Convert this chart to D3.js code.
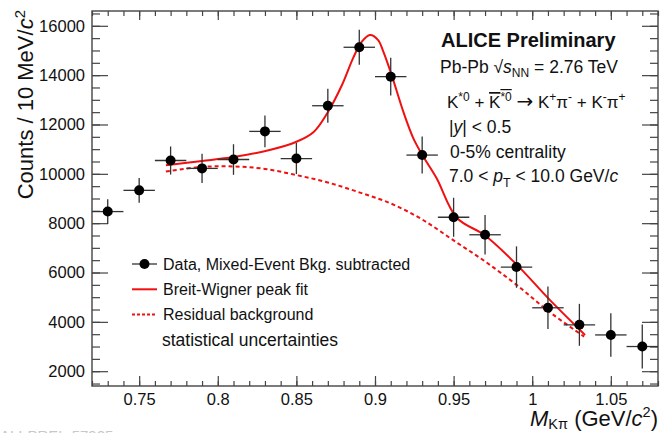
<!DOCTYPE html>
<html>
<head>
<meta charset="utf-8">
<script src="https://cdn.jsdelivr.net/npm/d3@7"></script>
<style>
  body { margin: 0; background: #fff; }
  svg { font-family: "Liberation Sans", Arial, sans-serif; }
</style>
</head>
<body>
<div id="chart"></div>
<script>
// data
const massBins = [0.73, 0.75, 0.77, 0.79, 0.81, 0.83, 0.85, 0.87, 0.89, 0.91, 0.93, 0.95, 0.97, 0.99, 1.01, 1.03, 1.05, 1.07];
const counts   = [8470, 9330, 10540, 10220, 10580, 11720, 10620, 12760, 15130, 13940, 10760, 8240, 7530, 6220, 4570, 3880, 3470, 3000];
const countErr = [500, 500, 570, 590, 620, 645, 630, 690, 710, 770, 750, 790, 800, 840, 860, 850, 880, 890];
const binHalfWidth = 0.01;

const fitMass   = [0.767, 0.79, 0.81, 0.833, 0.85, 0.861, 0.87, 0.879, 0.886, 0.8915, 0.8968, 0.902, 0.9053, 0.9106, 0.918, 0.9244, 0.9307, 0.9392, 0.952, 0.97, 0.99, 1.011, 1.0336];
const fitCounts = [10350, 10520, 10680, 10965, 11300, 11700, 12500, 13600, 14680, 15350, 15626, 15420, 14950, 14000, 12520, 11440, 10700, 9820, 8220, 7500, 6330, 4900, 3470];

const bkgMass   = [0.767, 0.79, 0.81, 0.83, 0.85, 0.87, 0.89, 0.91, 0.93, 0.95, 0.97, 0.99, 1.01, 1.033];
const bkgCounts = [10090, 10280, 10300, 10200, 9950, 9650, 9250, 8800, 8150, 7300, 6450, 5500, 4450, 3400];

const yTickValues = [2000, 4000, 6000, 8000, 10000, 12000, 14000, 16000];
const xTickValues = [0.75, 0.8, 0.85, 0.9, 0.95, 1, 1.05];

const width = 660, height = 433;
const frame = {left: 92, right: 658, top: 11, bottom: 386};

const svg = d3.select('#chart').append('svg')
    .attr('width', width)
    .attr('height', height);

const x = d3.scaleLinear().domain([0.72, 1.08]).range([frame.left, frame.right]);
const y = d3.scaleLinear().domain([1400, 16600]).range([frame.bottom, frame.top]);

const xMinor = d3.range(0.72, 1.0801, 0.01).map(v => +v.toFixed(2));
const yMinor = d3.range(1500, 16600, 500);

const axisColor = '#444';

function styleAxis(g) {
  g.select('.domain').remove();
  g.selectAll('.tick line').attr('stroke', axisColor).attr('stroke-width', 1.2);
  g.selectAll('.tick text').attr('fill', '#111').attr('font-size', 16.5)
    .attr('font-family', '"Liberation Sans", Arial, sans-serif');
}

// minor ticks
svg.append('g').attr('transform', `translate(${frame.left},0)`)
    .call(d3.axisLeft(y).tickValues(yMinor).tickSize(-8).tickFormat(''))
    .call(styleAxis);
svg.append('g').attr('transform', `translate(${frame.right},0)`)
    .call(d3.axisRight(y).tickValues(yMinor).tickSize(-8).tickFormat(''))
    .call(styleAxis);
svg.append('g').attr('transform', `translate(0,${frame.bottom})`)
    .call(d3.axisBottom(x).tickValues(xMinor).tickSize(-5).tickFormat(''))
    .call(styleAxis);
svg.append('g').attr('transform', `translate(0,${frame.top})`)
    .call(d3.axisTop(x).tickValues(xMinor).tickSize(-5).tickFormat(''))
    .call(styleAxis);

// major ticks + labels
svg.append('g').attr('transform', `translate(${frame.left},0)`)
    .call(d3.axisLeft(y).tickValues(yTickValues).tickSize(-16).tickPadding(7).tickFormat(d3.format('d')))
    .call(styleAxis);
svg.append('g').attr('transform', `translate(${frame.right},0)`)
    .call(d3.axisRight(y).tickValues(yTickValues).tickSize(-16).tickFormat(''))
    .call(styleAxis);
svg.append('g').attr('transform', `translate(0,${frame.bottom})`)
    .call(d3.axisBottom(x).tickValues(xTickValues).tickSize(-10).tickPadding(7).tickFormat(d => String(d)))
    .call(styleAxis);
svg.append('g').attr('transform', `translate(0,${frame.top})`)
    .call(d3.axisTop(x).tickValues(xTickValues).tickSize(-9).tickFormat(''))
    .call(styleAxis);

// frame
svg.append('rect')
    .attr('x', frame.left).attr('y', frame.top)
    .attr('width', frame.right - frame.left).attr('height', frame.bottom - frame.top)
    .attr('fill', 'none').attr('stroke', axisColor).attr('stroke-width', 1.4);

// curves
const line = d3.line().x(d => x(d[0])).y(d => y(d[1])).curve(d3.curveCatmullRom.alpha(0.5));

svg.append('path')
    .datum(d3.zip(bkgMass, bkgCounts))
    .attr('d', line)
    .attr('fill', 'none').attr('stroke', '#f01010').attr('stroke-width', 2)
    .attr('stroke-dasharray', '4,3');

svg.append('path')
    .datum(d3.zip(fitMass, fitCounts))
    .attr('d', line)
    .attr('fill', 'none').attr('stroke', '#f01010').attr('stroke-width', 2);

// data points
const pts = svg.append('g').selectAll('g')
    .data(d3.zip(massBins, counts, countErr))
    .enter().append('g');

pts.append('line')
    .attr('x1', d => x(d[0] - binHalfWidth)).attr('x2', d => x(d[0] + binHalfWidth))
    .attr('y1', d => y(d[1])).attr('y2', d => y(d[1]))
    .attr('stroke', '#333').attr('stroke-width', 1.3);
pts.append('line')
    .attr('x1', d => x(d[0])).attr('x2', d => x(d[0]))
    .attr('y1', d => y(d[1] - d[2])).attr('y2', d => y(d[1] + d[2]))
    .attr('stroke', '#333').attr('stroke-width', 1.3);
pts.append('circle')
    .attr('cx', d => x(d[0])).attr('cy', d => y(d[1]))
    .attr('r', 5).attr('fill', '#000');

// axis titles
const yTitle = svg.append('text')
    .attr('transform', `translate(33,${frame.top - 1}) rotate(-90)`)
    .attr('text-anchor', 'end')
    .attr('font-size', 22).attr('fill', '#111');
yTitle.append('tspan').text('Counts / 10 MeV/');
yTitle.append('tspan').attr('font-style', 'italic').text('c');
yTitle.append('tspan').attr('font-size', 15).attr('dy', -8).text('2');

const xTitle = svg.append('text')
    .attr('x', frame.right).attr('y', 426)
    .attr('text-anchor', 'end')
    .attr('font-size', 22).attr('fill', '#111');
xTitle.append('tspan').attr('font-style', 'italic').text('M');
xTitle.append('tspan').attr('font-size', 14.5).attr('dy', 3).text('Kπ');
xTitle.append('tspan').attr('dy', -3).text(' (GeV/');
xTitle.append('tspan').attr('font-style', 'italic').text('c');
xTitle.append('tspan').attr('font-size', 14.5).attr('dy', -9).text('2');
xTitle.append('tspan').attr('dy', 9).text(')');

// watermark id (cut at the bottom edge, as in the original)
svg.append('text')
    .attr('x', 0).attr('y', 441)
    .attr('font-size', 15).attr('fill', '#c8c8c8')
    .text('ALI-PREL-57925');

// info text
svg.append('text').attr('x', 441).attr('y', 47)
    .attr('font-size', 20).attr('font-weight', 'bold').attr('fill', '#111')
    .text('ALICE Preliminary');

const sys = svg.append('text').attr('x', 440).attr('y', 73).attr('font-size', 17.5).attr('fill', '#111');
sys.append('tspan').text('Pb-Pb √');
sys.append('tspan').attr('font-style', 'italic').text('s');
sys.append('tspan').attr('font-size', 12).attr('dy', 4).text('NN');
sys.append('tspan').attr('dy', -4).text(' = 2.76 TeV');

const decay = svg.append('text').attr('x', 447).attr('y', 108).attr('font-size', 17).attr('fill', '#111');
decay.append('tspan').text('K');
decay.append('tspan').attr('font-size', 12).attr('dy', -7).text('*0');
decay.append('tspan').attr('dy', 7).text(' + ');
decay.append('tspan').style('text-decoration', 'overline').text('K');
decay.append('tspan').attr('font-size', 12).attr('dy', -7).style('text-decoration', 'overline').text('*0');
decay.append('tspan').attr('dy', 7).text(' ');
decay.append('tspan').attr('font-family', '"DejaVu Sans", sans-serif').attr('font-size', 20).text('→');
decay.append('tspan').text(' K');
decay.append('tspan').attr('font-size', 12).attr('dy', -7).text('+');
decay.append('tspan').attr('dy', 7).text('π');
decay.append('tspan').attr('font-size', 12).attr('dy', -7).text('-');
decay.append('tspan').attr('dy', 7).text(' + K');
decay.append('tspan').attr('font-size', 12).attr('dy', -7).text('-');
decay.append('tspan').attr('dy', 7).text('π');
decay.append('tspan').attr('font-size', 12).attr('dy', -7).text('+');

const rap = svg.append('text').attr('x', 449).attr('y', 133).attr('font-size', 17.5).attr('fill', '#111');
rap.append('tspan').text('|');
rap.append('tspan').attr('font-style', 'italic').text('y');
rap.append('tspan').text('| < 0.5');

svg.append('text').attr('x', 450).attr('y', 158).attr('font-size', 17.5).attr('fill', '#111')
    .text('0-5% centrality');

const pt = svg.append('text').attr('x', 449).attr('y', 182).attr('font-size', 17.5).attr('fill', '#111');
pt.append('tspan').text('7.0 < ');
pt.append('tspan').attr('font-style', 'italic').text('p');
pt.append('tspan').attr('font-size', 12.5).attr('dy', 5).text('T');
pt.append('tspan').attr('dy', -5).text(' < 10.0 GeV/');
pt.append('tspan').attr('font-style', 'italic').text('c');

// legend
const legendLabels = ['Data, Mixed-Event Bkg. subtracted', 'Breit-Wigner peak fit', 'Residual background', 'statistical uncertainties'];
const legendKinds = ['point', 'line', 'dash', 'none'];
const legend = svg.append('g');
const rows = legend.selectAll('g').data(d3.zip(legendLabels, legendKinds)).enter().append('g')
    .attr('transform', (d, i) => `translate(0,${264 + i * 25.3})`);

rows.filter(d => d[1] === 'point').call(g => {
  g.append('line').attr('x1', 132).attr('x2', 157).attr('stroke', '#333').attr('stroke-width', 1.3);
  g.append('circle').attr('cx', 144.5).attr('r', 5).attr('fill', '#000');
});
rows.filter(d => d[1] === 'line').append('line')
    .attr('x1', 132).attr('x2', 157).attr('stroke', '#f01010').attr('stroke-width', 2);
rows.filter(d => d[1] === 'dash').append('line')
    .attr('x1', 132).attr('x2', 157).attr('stroke', '#f01010').attr('stroke-width', 2)
    .attr('stroke-dasharray', '3,2');
rows.append('text')
    .attr('x', (d, i) => i === 3 ? 162 : 163).attr('y', (d, i) => i === 3 ? 6 : 5.5)
    .attr('font-size', (d, i) => i === 3 ? 17.5 : 16).attr('fill', '#111')
    .text(d => d[0]);
</script>
</body>
</html>
